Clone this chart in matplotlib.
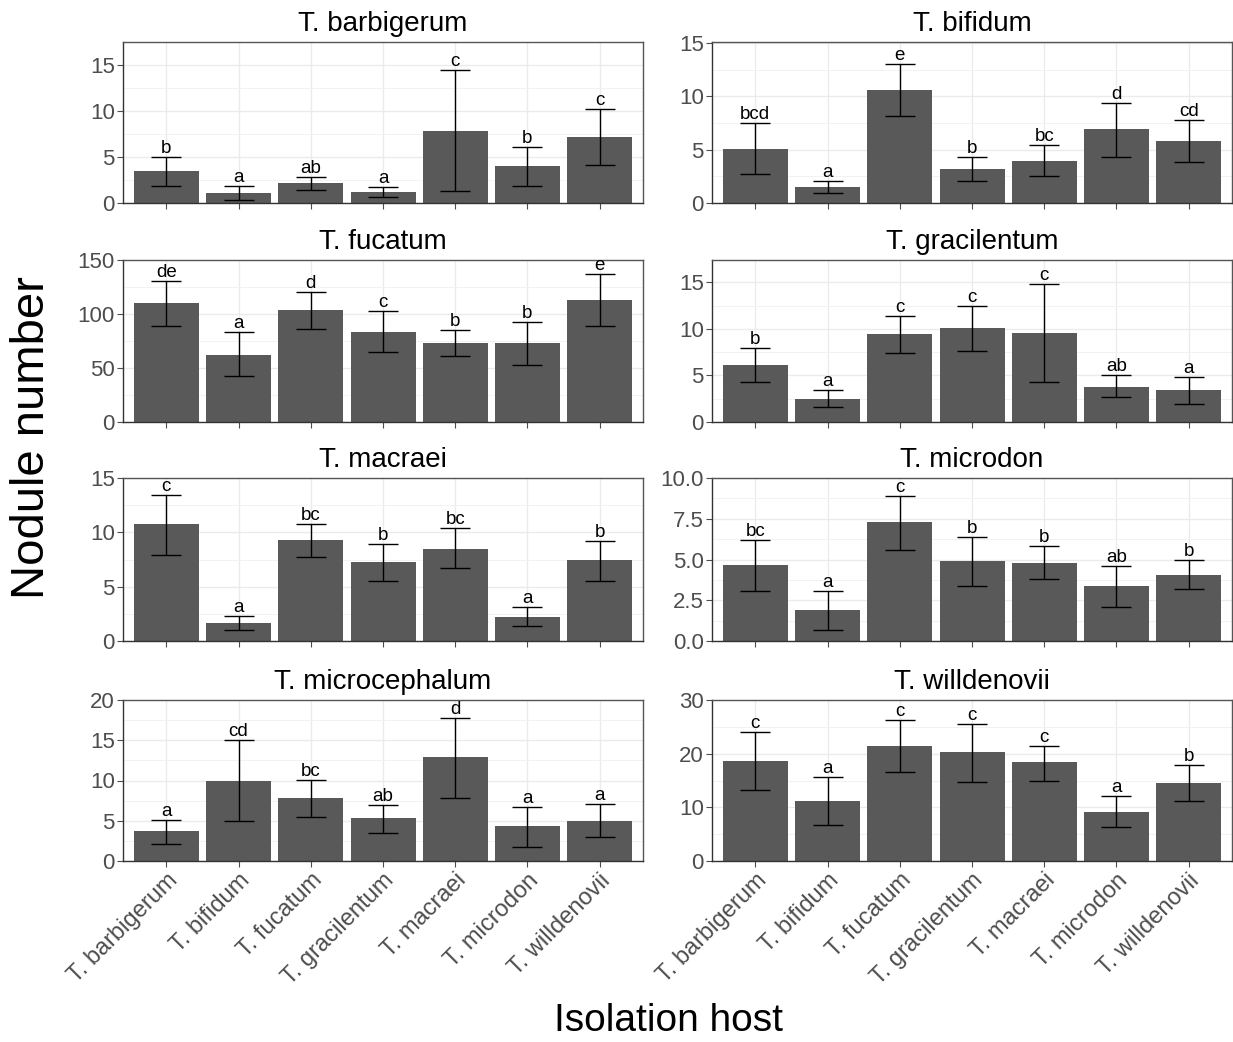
import numpy as np
import matplotlib.pyplot as plt

plt.rcParams['font.family'] = ['Liberation Sans', 'DejaVu Sans']

# Isolation hosts (x categories)
hosts = ['T. barbigerum', 'T. bifidum', 'T. fucatum', 'T. gracilentum',
         'T. macraei', 'T. microdon', 'T. willdenovii']

# Panel titles (test host)
titles = ['T. barbigerum', 'T. bifidum', 'T. fucatum', 'T. gracilentum',
          'T. macraei', 'T. microdon', 'T. microcephalum', 'T. willdenovii']

# mean nodule number per panel
means = [
    [3.5, 1.1, 2.2, 1.2, 7.8, 4.0, 7.2],
    [5.1, 1.5, 10.6, 3.2, 3.9, 6.9, 5.8],
    [110, 62, 104, 83, 73, 73, 113],
    [6.1, 2.5, 9.4, 10.1, 9.6, 3.8, 3.4],
    [10.8, 1.7, 9.3, 7.3, 8.5, 2.2, 7.5],
    [4.65, 1.9, 7.3, 4.9, 4.8, 3.4, 4.05],
    [3.7, 10.0, 7.8, 5.3, 12.9, 4.3, 5.0],
    [18.7, 11.2, 21.4, 20.3, 18.4, 9.2, 14.5],
]
# error bar lower / upper ends
lows = [
    [1.9, 0.3, 1.4, 0.6, 1.3, 1.9, 4.1],
    [2.7, 0.9, 8.2, 2.1, 2.5, 4.3, 3.8],
    [89, 43, 86, 65, 61, 53, 89],
    [4.3, 1.6, 7.4, 7.6, 4.3, 2.7, 1.9],
    [7.9, 1.0, 7.7, 5.5, 6.7, 1.4, 5.5],
    [3.05, 0.65, 5.6, 3.35, 3.8, 2.1, 3.2],
    [2.1, 5.0, 5.5, 3.5, 7.8, 1.8, 3.0],
    [13.2, 6.7, 16.5, 14.7, 15.0, 6.4, 11.1],
]
highs = [
    [5.0, 1.8, 2.8, 1.7, 14.5, 6.1, 10.2],
    [7.5, 2.1, 13.0, 4.3, 5.4, 9.4, 7.8],
    [131, 83, 120, 103, 85, 93, 137],
    [7.9, 3.4, 11.4, 12.5, 14.8, 5.0, 4.8],
    [13.4, 2.3, 10.8, 8.9, 10.4, 3.1, 9.2],
    [6.2, 3.05, 8.9, 6.4, 5.8, 4.6, 4.95],
    [5.1, 15.0, 10.1, 7.0, 17.8, 6.7, 7.1],
    [24.0, 15.6, 26.2, 25.6, 21.5, 12.1, 17.8],
]
letters = [
    ['b', 'a', 'ab', 'a', 'c', 'b', 'c'],
    ['bcd', 'a', 'e', 'b', 'bc', 'd', 'cd'],
    ['de', 'a', 'd', 'c', 'b', 'b', 'e'],
    ['b', 'a', 'c', 'c', 'c', 'ab', 'a'],
    ['c', 'a', 'bc', 'b', 'bc', 'a', 'b'],
    ['bc', 'a', 'c', 'b', 'b', 'ab', 'b'],
    ['a', 'cd', 'bc', 'ab', 'd', 'a', 'a'],
    ['c', 'a', 'c', 'c', 'c', 'a', 'b'],
]
ytops = [17.5, 15.1, 150, 17.4, 15.0, 10.0, 20, 30]
yticks = [[0, 5, 10, 15], [0, 5, 10, 15], [0, 50, 100, 150], [0, 5, 10, 15],
          [0, 5, 10, 15], [0, 2.5, 5.0, 7.5, 10.0], [0, 5, 10, 15, 20], [0, 10, 20, 30]]

W, H = 1233, 1042
fig = plt.figure(figsize=(W / 100, H / 100), dpi=100)

col_x = [(123, 643), (712, 1232)]
row_y = [(42, 203), (260, 422), (478, 641), (700, 861)]

x = np.arange(len(hosts))
for i in range(8):
    r, c = divmod(i, 2)
    x0, x1 = col_x[c]
    y0, y1 = row_y[r]
    ax = fig.add_axes([x0 / W, 1 - y1 / H, (x1 - x0) / W, (y1 - y0) / H])
    m = np.array(means[i])
    lo = np.array(lows[i])
    hi = np.array(highs[i])

    ax.bar(x, m, width=0.9, color='#595959', zorder=2)
    ax.errorbar(x, m, yerr=[m - lo, hi - m], fmt='none', ecolor='black',
                elinewidth=1, capsize=11, capthick=1, zorder=3)
    for xi, h, t in zip(x, hi, letters[i]):
        ax.text(xi, h, t, ha='center', va='bottom', fontsize=13.5, zorder=4)

    ax.set_xlim(-0.6, 6.6)
    ax.set_ylim(0, ytops[i])
    ax.set_yticks(yticks[i])
    if i == 5:
        ax.set_yticklabels(['%.1f' % v for v in yticks[i]])
    mids = [(a + b) / 2 for a, b in zip(yticks[i][:-1], yticks[i][1:])]
    ax.set_yticks(mids, minor=True)
    ax.grid(True, which='major', color='#ebebeb', lw=1, zorder=0)
    ax.grid(True, which='minor', axis='y', color='#f2f2f2', lw=0.7, zorder=0)
    ax.set_axisbelow(True)
    ax.set_xticks(x)
    ax.tick_params(axis='both', which='major', labelsize=16, colors='#4d4d4d',
                   length=4, width=0.8, pad=2)
    ax.tick_params(axis='y', which='minor', length=0)
    for s in ax.spines.values():
        s.set_color('#555555')
        s.set_linewidth(1)
    ax.spines['left'].set_color('#333333')
    ax.spines['bottom'].set_color('#333333')
    ax.set_title(titles[i], fontsize=20, pad=8)
    if r == 3:
        ax.set_xticklabels(hosts, rotation=45, ha='right', rotation_mode='anchor',
                           fontsize=17)
    else:
        ax.set_xticklabels([])

fig.text(0.026, 0.58, 'Nodule number', rotation=90, ha='center', va='center',
         fontsize=34)
fig.text(0.542, 0.003, 'Isolation host', ha='center', va='bottom', fontsize=28)

fig.savefig('out.png', dpi=100)
